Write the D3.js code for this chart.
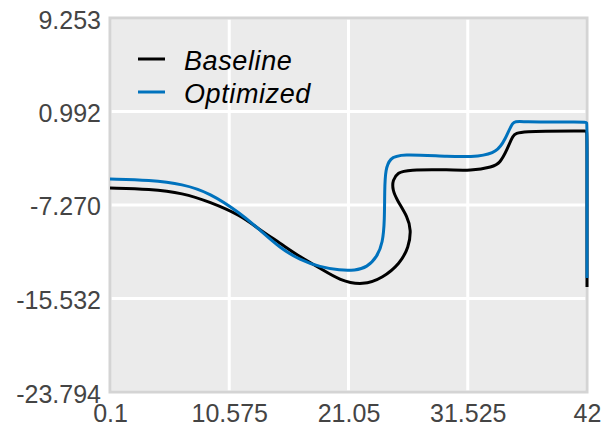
<!DOCTYPE html>
<html>
<head>
<meta charset="utf-8">
<script src="https://cdn.jsdelivr.net/npm/d3@7"></script>
<style>
  body { margin: 0; background: #fff; }
  text { font-family: "Liberation Sans", Arial, sans-serif; }
</style>
</head>
<body>
<div id="plot"></div>
<script>
// Values
var xTicks = [0.1, 10.575, 21.05, 31.525, 42];
var yTicks = [-23.794, -15.532, -7.270, 0.992, 9.253];
var seriesNames = ['Baseline', 'Optimized'];
var seriesColors = ['#000000', '#0072bd'];

var baselineX = [0.1, 3.61, 6.51, 8.88, 11.52, 13.28, 15.03, 16.79, 18.55, 20.30, 22.32, 24.08, 25.57, 26.35, 26.55, 26.25, 25.31, 24.92, 24.92, 25.40, 26.19, 29.97, 31.72, 33.74, 34.36, 34.97, 35.50, 35.94, 41.8, 42, 42, 42];
var baselineY = [-5.77, -5.86, -6.21, -7.01, -8.15, -9.48, -10.63, -11.87, -12.84, -13.95, -14.38, -13.70, -12.45, -10.98, -9.48, -8.33, -6.83, -5.95, -5.06, -4.40, -4.15, -4.15, -4.25, -3.91, -3.56, -2.41, -1.09, -0.73, -0.73, -0.73, -1.2, -14.52];

var optimizedX = [0.1, 3.61, 6.51, 8.88, 11.52, 13.28, 15.03, 16.79, 18.55, 20.30, 21.62, 22.68, 23.55, 24.06, 24.22, 24.22, 24.30, 24.70, 25.57, 29.97, 32.60, 34.09, 34.80, 35.50, 35.94, 41.8, 42, 42, 42];
var optimizedY = [-4.97, -5.06, -5.42, -6.21, -7.98, -9.48, -11.07, -12.13, -12.75, -13.05, -13.05, -12.78, -11.87, -10.63, -8.60, -5.95, -4.10, -3.15, -2.74, -3.00, -3.00, -2.59, -1.53, 0.20, 0.06, 0.06, 0.06, -0.4, -13.72];

var width = 611,
    height = 426,
    margin = { left: 110, right: 24, top: 18, bottom: 34 };

var x = d3.scaleLinear()
    .domain([0.1, 42])
    .range([margin.left, width - margin.right]);

var y = d3.scaleLinear()
    .domain([-23.794, 9.253])
    .range([height - margin.bottom, margin.top]);

var svg = d3.select('#plot')
    .append('svg')
    .attr('width', width)
    .attr('height', height);

// Panel background
svg.append('rect')
    .attr('x', x.range()[0])
    .attr('y', y.range()[1])
    .attr('width', x.range()[1] - x.range()[0])
    .attr('height', y.range()[0] - y.range()[1])
    .attr('fill', '#ebebeb');

// Grid
var grid = svg.append('g').attr('stroke', '#fff').attr('stroke-width', 3);
grid.selectAll('line.v')
    .data(xTicks)
    .enter()
    .append('line')
    .attr('x1', x).attr('x2', x)
    .attr('y1', y.range()[0]).attr('y2', y.range()[1]);
grid.selectAll('line.h')
    .data(yTicks)
    .enter()
    .append('line')
    .attr('y1', y).attr('y2', y)
    .attr('x1', x.range()[0]).attr('x2', x.range()[1]);

// Frame
svg.append('rect')
    .attr('x', x.range()[0])
    .attr('y', y.range()[1])
    .attr('width', x.range()[1] - x.range()[0])
    .attr('height', y.range()[0] - y.range()[1])
    .attr('fill', 'none')
    .attr('stroke', '#d4d4d4')
    .attr('stroke-width', 3);

// Axes labels (plain hyphen minus, like the reference)
var xAxis = d3.axisBottom(x).tickValues(xTicks).tickSize(0).tickPadding(12)
    .tickFormat(function(d) { return String(d); });
var yAxis = d3.axisLeft(y).tickValues(yTicks).tickSize(0).tickPadding(9)
    .tickFormat(function(d) { return d.toFixed(3); });

svg.append('g')
    .attr('transform', 'translate(0,' + y.range()[0] + ')')
    .call(xAxis)
    .call(function(g) { g.select('.domain').remove(); })
    .selectAll('text')
    .attr('font-size', 25)
    .attr('fill', '#444');

svg.append('g')
    .attr('transform', 'translate(' + x.range()[0] + ',0)')
    .call(yAxis)
    .call(function(g) { g.select('.domain').remove(); })
    .selectAll('text')
    .attr('font-size', 25)
    .attr('dy', '0.40em')
    .attr('fill', '#444');

svg.selectAll('.tick text').attr('font-family', '"Liberation Sans", Arial, sans-serif');

// Lines
var lineGen = d3.line()
    .x(function(d) { return x(d[0]); })
    .y(function(d) { return y(d[1]); })
    .curve(d3.curveBasis);

var series = [d3.zip(baselineX, baselineY), d3.zip(optimizedX, optimizedY)];

svg.append('g')
    .selectAll('path')
    .data(series)
    .enter()
    .append('path')
    .attr('d', lineGen)
    .attr('fill', 'none')
    .attr('stroke', function(d, i) { return seriesColors[i]; })
    .attr('stroke-width', 3);

// Legend
var legend = svg.append('g')
    .attr('transform', 'translate(138,59)');

var item = legend.selectAll('g')
    .data(seriesNames)
    .enter()
    .append('g')
    .attr('transform', function(d, i) { return 'translate(0,' + (i * 33) + ')'; });

item.append('line')
    .attr('x1', 0).attr('x2', 27)
    .attr('stroke', function(d, i) { return seriesColors[i]; })
    .attr('stroke-width', 3);

item.append('text')
    .attr('x', 46)
    .attr('y', 11)
    .attr('font-size', 27)
    .attr('letter-spacing', 0.6)
    .attr('font-style', 'italic')
    .attr('fill', '#000')
    .text(function(d) { return d; });
</script>
</body>
</html>
